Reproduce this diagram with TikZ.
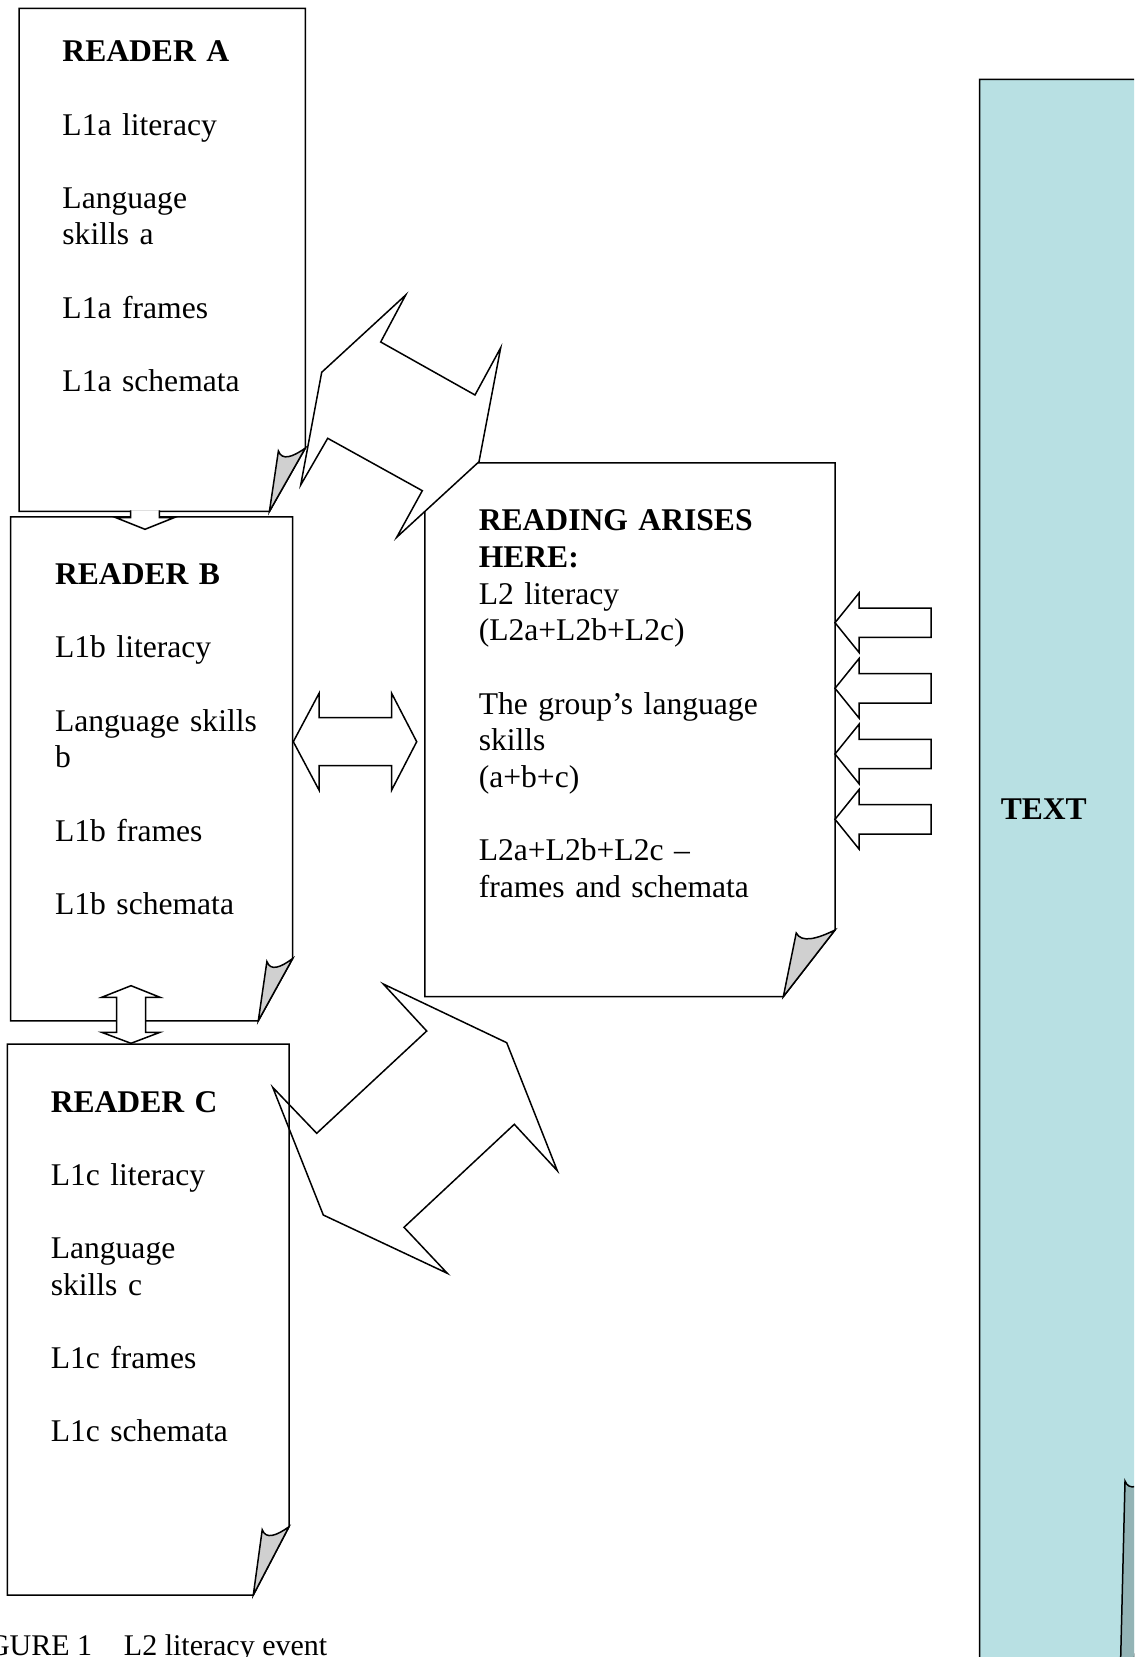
\documentclass[tikz,border=0pt]{standalone}
\usepackage{fontspec}
\setmainfont{Liberation Serif}
\usepackage{tikz}
\usetikzlibrary{calc}
\definecolor{textbg}{HTML}{B8E0E3}
\definecolor{curl}{HTML}{D0D0D0}
\definecolor{textcurl}{HTML}{93B4B6}
\newcommand{\nextitem}{\\[18.33pt]}
% page with a curled lower right corner: corner names, fold width, fold height, page fill, curl fill
\newcommand{\foldpage}[5]{%
  \filldraw[fill=#4] (nw#1) -- (nw#1 -| se#1) -- ($(se#1)+(0,-#3)$)
    -- ($(se#1)+(-#2,0)$) -- (nw#1 |- se#1) -- cycle;
  \filldraw[fill=#5] ($(se#1)+(-#2,0)$) -- ($(se#1)+(-0.75*#2,-#3+3)$)
    .. controls +(0.1*#2,10) and +(-0.35*#2,9) .. ($(se#1)+(0,-#3)$) -- cycle;
}

\begin{document}
\begin{tikzpicture}[x=0.5pt, y=-0.5pt, line width=0.75pt,
  body/.style={anchor=base west, text width=190pt, align=left, inner sep=0pt,
    font=\fontsize{15.8}{18.33}\selectfont},
  blockarrow/.style={draw, fill=white, line join=miter}
]
\useasboundingbox (0,0) rectangle (1134,1657);
\fill[white] (0,0) rectangle (1134,1657);
\clip (0,0) rectangle (1134,1657);

% pages
\coordinate (nwA) at (19,8.5);      \coordinate (seA) at (305.4,511.5);
\coordinate (nwB) at (10.6,516.8);  \coordinate (seB) at (292.7,1020.8);
\coordinate (nwC) at (7.4,1044.1);  \coordinate (seC) at (289,1595);
\coordinate (nwR) at (424.8,462.9); \coordinate (seR) at (835,996.7);
\coordinate (nwT) at (979.7,79.3);  \coordinate (seT) at (1152,1849);

\foldpage{T}{36}{371}{textbg}{textcurl}
\foldpage{A}{36}{63.5}{white}{curl}
\foldpage{B}{34.4}{62.3}{white}{curl}
\foldpage{C}{35.7}{68.3}{white}{curl}
\foldpage{R}{51.7}{66.7}{white}{curl}

% texts
\node[body] (readerA) at ($(nwA)+(42.7,53.2)$) {\textbf{READER A}\nextitem
  L1a literacy\nextitem Language\\skills a\nextitem L1a frames\nextitem L1a schemata};
\node[body] (readerB) at ($(nwB)+(43.7,67.8)$) {\textbf{READER B}\nextitem
  L1b literacy\nextitem Language skills\\b\nextitem L1b frames\nextitem L1b schemata};
\node[body] (readerC) at ($(nwC)+(42.6,67.9)$) {\textbf{READER C}\nextitem
  L1c literacy\nextitem Language\\skills c\nextitem L1c frames\nextitem L1c schemata};
\node[body] (reading) at ($(nwR)+(53.2,67.9)$) {\textbf{READING ARISES}\\\textbf{HERE:}\\
  L2 literacy\\(L2a+L2b+L2c)\nextitem The group’s language\\skills\\(a+b+c)\nextitem
  L2a+L2b+L2c –\\frames and schemata};
\node[body] (textlabel) at ($(nwT)+(20.3,739.7)$) {\textbf{TEXT}};
\node[anchor=base east, inner sep=0pt, font=\fontsize{15}{18}\selectfont] (caption)
  at (328,1655) {FIGURE 1\hspace{15.9pt}L2 literacy event};

% block arrows between the readers
\coordinate (abtip) at (145,529.3);
\draw[blockarrow] ($(abtip)+(-14.3,-18.8)$) -- ++(0,7.2) -- ++(-14.7,0) -- (abtip)
  -- ++(29,-11.6) -- ++(-14.7,0) -- ++(0,-7.2);
\coordinate (bctip) at (131,985.7);
\draw[blockarrow] (bctip) -- ++(29,11.6) -- ++(-14.3,0) -- ++(0,35) -- ++(14.3,0)
  -- ++(-29,11) -- ++(-29.3,-11) -- ++(15,0) -- ++(0,-35) -- ++(-15,0) -- cycle;
\coordinate (brtip) at (293.3,741.7);
\draw[blockarrow] (brtip) -- ++(25.7,-48.3) -- ++(0,24.3) -- ++(72.7,0) -- ++(0,-24.3)
  -- ++(25,48.3) -- ++(-25,48.3) -- ++(0,-24.3) -- ++(-72.7,0) -- ++(0,24.3) -- cycle;

% arrows from the text
\foreach \dy in {159.8,225.4,291.1,356.4}
  \draw[blockarrow] ($(nwR -| seR)+(0,\dy)$) -- ++(24,-29.7) -- ++(0,15) -- ++(72,0)
    -- ++(0,29.4) -- ++(-72,0) -- ++(0,15) -- cycle;

% zigzag double arrows
\draw[blockarrow] (405.7,295) -- (380.7,342) -- (475,395) -- (500.7,347.7) -- (479,461.7)
  -- (396.7,537.3) -- (422.3,490.7) -- (327.7,438.3) -- (300.7,485) -- (321.7,372.3) -- cycle;
\draw[line join=miter] (383.3,984) -- (426.7,1031) -- (316.7,1133.3) -- (272.7,1087.3)
  -- (323.3,1215) -- (447.3,1273.3) -- (404,1227.3) -- (514.3,1124.3) -- (557.3,1170.7)
  -- (506.7,1042.7) -- cycle;
\end{tikzpicture}
\end{document}
